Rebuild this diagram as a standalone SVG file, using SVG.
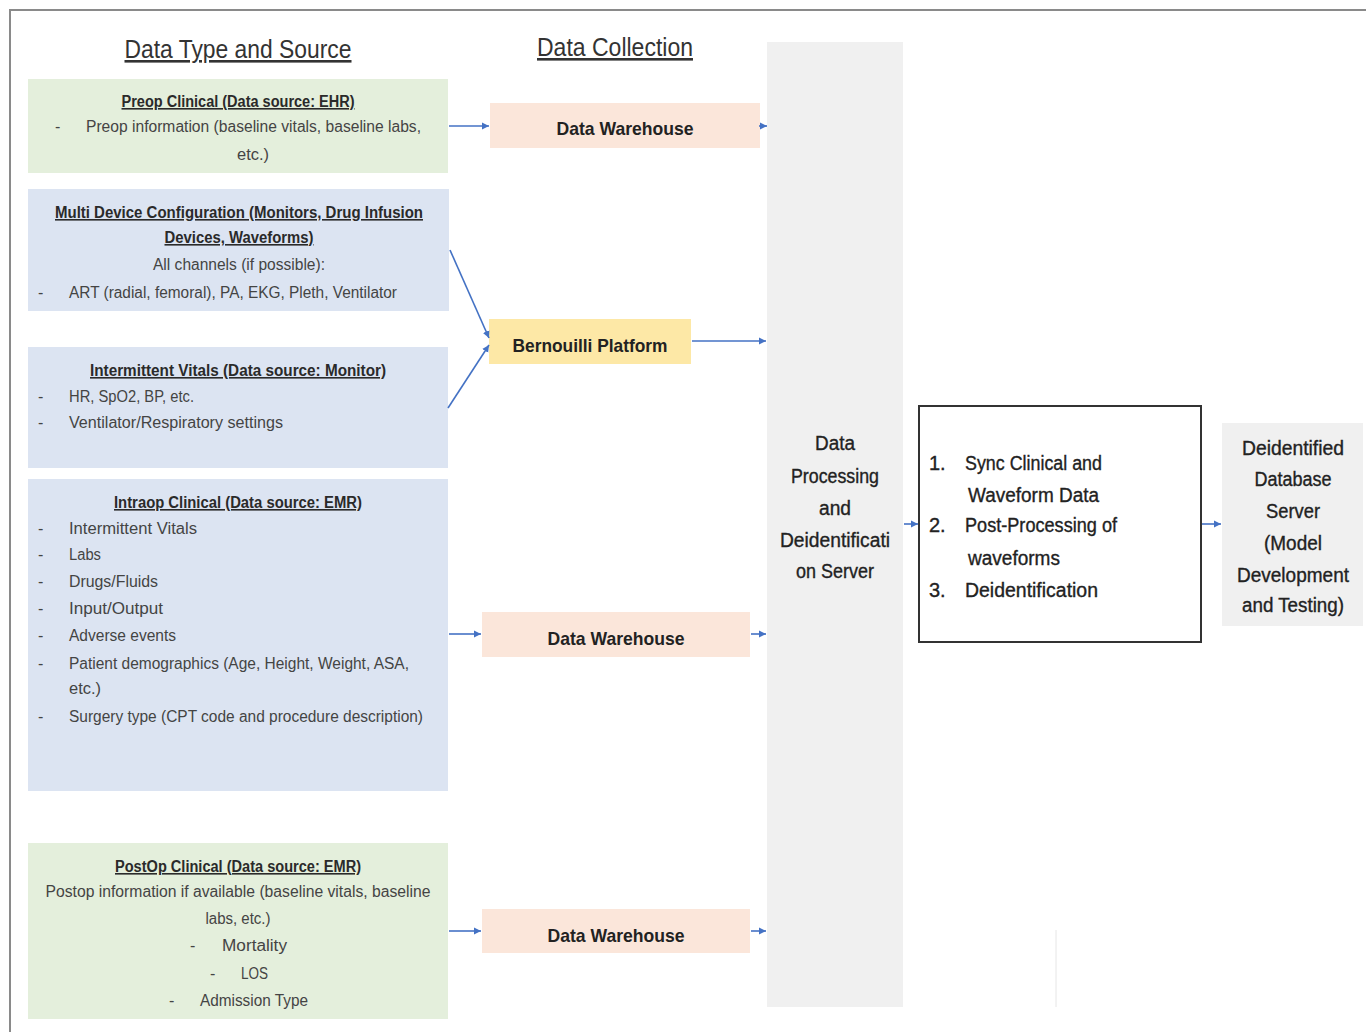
<svg xmlns="http://www.w3.org/2000/svg" width="1366" height="1032" viewBox="0 0 1366 1032">
<defs>
<marker id="ah" markerWidth="8" markerHeight="8" refX="7" refY="4" orient="auto" markerUnits="userSpaceOnUse">
<path d="M0,0.5 L7,4 L0,7.5 Z" fill="#4472c4"/>
</marker>
<style>
text{font-family:"Liberation Sans",Arial,sans-serif;fill:#3a3a3a}
.hdr{font-size:26px;text-decoration:underline;fill:#333}
.ttl{font-size:16px;font-weight:bold;text-decoration:underline;fill:#2a2a2a}
.bd{font-size:16px;fill:#444}
.dw{font-size:19px;font-weight:bold;fill:#222}
.big{font-size:20px;fill:#222;stroke:#222;stroke-width:0.35}
.c{text-anchor:middle}
.green{fill:#e4efdc}
.blue{fill:#dce4f2}
.peach{fill:#fbe6da}
.yellow{fill:#fde8a6}
.gray{fill:#f0f0f0}
.conn line{stroke:#4472c4;stroke-width:1.6;fill:none;marker-end:url(#ah)}
</style>
</defs>
<rect width="1366" height="1032" fill="#ffffff"/>
<path d="M10,1032 V10 H1366" fill="none" stroke="#8a8a8a" stroke-width="2"/>
<line x1="1056" y1="930" x2="1056" y2="1007" stroke="#e6e6e6" stroke-width="1"/>

<g id="headers">
<text class="hdr c" x="238" y="58" textLength="227" lengthAdjust="spacingAndGlyphs">Data Type and Source</text>
<text class="hdr c" x="615" y="56" textLength="156" lengthAdjust="spacingAndGlyphs">Data Collection</text>
</g>

<g id="preop">
<rect class="green" x="28" y="79" width="420" height="94"/>
<text class="ttl c" x="238" y="107" textLength="233" lengthAdjust="spacingAndGlyphs">Preop Clinical (Data source: EHR)</text>
<text class="bd" x="55" y="132">-</text>
<text class="bd" x="86" y="132" textLength="335" lengthAdjust="spacingAndGlyphs">Preop information (baseline vitals, baseline labs,</text>
<text class="bd c" x="253" y="160" textLength="32" lengthAdjust="spacingAndGlyphs">etc.)</text>
</g>

<g id="multidevice">
<rect class="blue" x="28" y="189" width="421" height="122"/>
<text class="ttl c" x="239" y="218" textLength="368" lengthAdjust="spacingAndGlyphs">Multi Device Configuration (Monitors, Drug Infusion</text>
<text class="ttl c" x="239" y="243" textLength="149" lengthAdjust="spacingAndGlyphs">Devices, Waveforms)</text>
<text class="bd c" x="239" y="270" textLength="172" lengthAdjust="spacingAndGlyphs">All channels (if possible):</text>
<text class="bd" x="38" y="298">-</text>
<text class="bd" x="69" y="298" textLength="328" lengthAdjust="spacingAndGlyphs">ART (radial, femoral), PA, EKG, Pleth, Ventilator</text>
</g>

<g id="intermittent">
<rect class="blue" x="28" y="347" width="420" height="121"/>
<text class="ttl c" x="238" y="376" textLength="296" lengthAdjust="spacingAndGlyphs">Intermittent Vitals (Data source: Monitor)</text>
<text class="bd" x="38" y="402">-</text>
<text class="bd" x="69" y="402" textLength="125" lengthAdjust="spacingAndGlyphs">HR, SpO2, BP, etc.</text>
<text class="bd" x="38" y="428">-</text>
<text class="bd" x="69" y="428" textLength="214" lengthAdjust="spacingAndGlyphs">Ventilator/Respiratory settings</text>
</g>

<g id="intraop">
<rect class="blue" x="28" y="479" width="420" height="312"/>
<text class="ttl c" x="238" y="508" textLength="248" lengthAdjust="spacingAndGlyphs">Intraop Clinical (Data source: EMR)</text>
<text class="bd" x="38" y="534">-</text><text class="bd" x="69" y="534" textLength="128" lengthAdjust="spacingAndGlyphs">Intermittent Vitals</text>
<text class="bd" x="38" y="560">-</text><text class="bd" x="69" y="560" textLength="32" lengthAdjust="spacingAndGlyphs">Labs</text>
<text class="bd" x="38" y="587">-</text><text class="bd" x="69" y="587" textLength="89" lengthAdjust="spacingAndGlyphs">Drugs/Fluids</text>
<text class="bd" x="38" y="614">-</text><text class="bd" x="69" y="614" textLength="94" lengthAdjust="spacingAndGlyphs">Input/Output</text>
<text class="bd" x="38" y="641">-</text><text class="bd" x="69" y="641" textLength="107" lengthAdjust="spacingAndGlyphs">Adverse events</text>
<text class="bd" x="38" y="669">-</text><text class="bd" x="69" y="669" textLength="340" lengthAdjust="spacingAndGlyphs">Patient demographics (Age, Height, Weight, ASA,</text>
<text class="bd" x="69" y="694" textLength="32" lengthAdjust="spacingAndGlyphs">etc.)</text>
<text class="bd" x="38" y="722">-</text><text class="bd" x="69" y="722" textLength="354" lengthAdjust="spacingAndGlyphs">Surgery type (CPT code and procedure description)</text>
</g>

<g id="postop">
<rect class="green" x="28" y="843" width="420" height="176"/>
<text class="ttl c" x="238" y="872" textLength="246" lengthAdjust="spacingAndGlyphs">PostOp Clinical (Data source: EMR)</text>
<text class="bd c" x="238" y="897" textLength="385" lengthAdjust="spacingAndGlyphs">Postop information if available (baseline vitals, baseline</text>
<text class="bd c" x="238" y="924" textLength="65" lengthAdjust="spacingAndGlyphs">labs, etc.)</text>
<text class="bd" x="190" y="951">-</text><text class="bd" x="222" y="951" textLength="65" lengthAdjust="spacingAndGlyphs">Mortality</text>
<text class="bd" x="210" y="979">-</text><text class="bd" x="241" y="979" textLength="27" lengthAdjust="spacingAndGlyphs">LOS</text>
<text class="bd" x="169" y="1006">-</text><text class="bd" x="200" y="1006" textLength="108" lengthAdjust="spacingAndGlyphs">Admission Type</text>
</g>

<g id="dw1">
<rect class="peach" x="490" y="103" width="270" height="45"/>
<text class="dw c" x="625" y="135" textLength="137" lengthAdjust="spacingAndGlyphs">Data Warehouse</text>
</g>
<g id="bernouilli">
<rect class="yellow" x="489" y="319" width="202" height="45"/>
<text class="dw c" x="590" y="352" textLength="155" lengthAdjust="spacingAndGlyphs">Bernouilli Platform</text>
</g>
<g id="dw2">
<rect class="peach" x="482" y="612" width="268" height="45"/>
<text class="dw c" x="616" y="645" textLength="137" lengthAdjust="spacingAndGlyphs">Data Warehouse</text>
</g>
<g id="dw3">
<rect class="peach" x="482" y="909" width="268" height="44"/>
<text class="dw c" x="616" y="942" textLength="137" lengthAdjust="spacingAndGlyphs">Data Warehouse</text>
</g>

<g id="server">
<rect class="gray" x="767" y="42" width="136" height="965"/>
<text class="big c" x="835" y="450" textLength="40" lengthAdjust="spacingAndGlyphs">Data</text>
<text class="big c" x="835" y="483" textLength="88" lengthAdjust="spacingAndGlyphs">Processing</text>
<text class="big c" x="835" y="515" textLength="32" lengthAdjust="spacingAndGlyphs">and</text>
<text class="big c" x="835" y="547" textLength="110" lengthAdjust="spacingAndGlyphs">Deidentificati</text>
<text class="big c" x="835" y="578" textLength="78" lengthAdjust="spacingAndGlyphs">on Server</text>
</g>

<g id="process">
<rect x="919" y="406" width="282" height="236" fill="#ffffff" stroke="#333" stroke-width="2"/>
<text class="big" x="929" y="470">1.</text>
<text class="big" x="965" y="470" textLength="137" lengthAdjust="spacingAndGlyphs">Sync Clinical and</text>
<text class="big" x="968" y="502" textLength="131" lengthAdjust="spacingAndGlyphs">Waveform Data</text>
<text class="big" x="929" y="532">2.</text>
<text class="big" x="965" y="532" textLength="152" lengthAdjust="spacingAndGlyphs">Post-Processing of</text>
<text class="big" x="968" y="565" textLength="92" lengthAdjust="spacingAndGlyphs">waveforms</text>
<text class="big" x="929" y="597">3.</text>
<text class="big" x="965" y="597" textLength="133" lengthAdjust="spacingAndGlyphs">Deidentification</text>
</g>

<g id="deidentified">
<rect class="gray" x="1222" y="423" width="141" height="203"/>
<text class="big c" x="1293" y="455" textLength="102" lengthAdjust="spacingAndGlyphs">Deidentified</text>
<text class="big c" x="1293" y="486" textLength="77" lengthAdjust="spacingAndGlyphs">Database</text>
<text class="big c" x="1293" y="518" textLength="54" lengthAdjust="spacingAndGlyphs">Server</text>
<text class="big c" x="1293" y="550" textLength="58" lengthAdjust="spacingAndGlyphs">(Model</text>
<text class="big c" x="1293" y="582" textLength="112" lengthAdjust="spacingAndGlyphs">Development</text>
<text class="big c" x="1293" y="612" textLength="102" lengthAdjust="spacingAndGlyphs">and Testing)</text>
</g>

<g id="connectors" class="conn">
<line x1="449" y1="126" x2="489" y2="126"/>
<line x1="759" y1="126" x2="767" y2="126"/>
<line x1="450" y1="250" x2="489" y2="338"/>
<line x1="448" y1="408" x2="489" y2="345"/>
<line x1="692" y1="341" x2="766" y2="341"/>
<line x1="449" y1="634" x2="481" y2="634"/>
<line x1="751" y1="634" x2="766" y2="634"/>
<line x1="449" y1="931" x2="481" y2="931"/>
<line x1="751" y1="931" x2="766" y2="931"/>
<line x1="904" y1="524" x2="918" y2="524"/>
<line x1="1202" y1="524" x2="1221" y2="524"/>
</g>
</svg>
